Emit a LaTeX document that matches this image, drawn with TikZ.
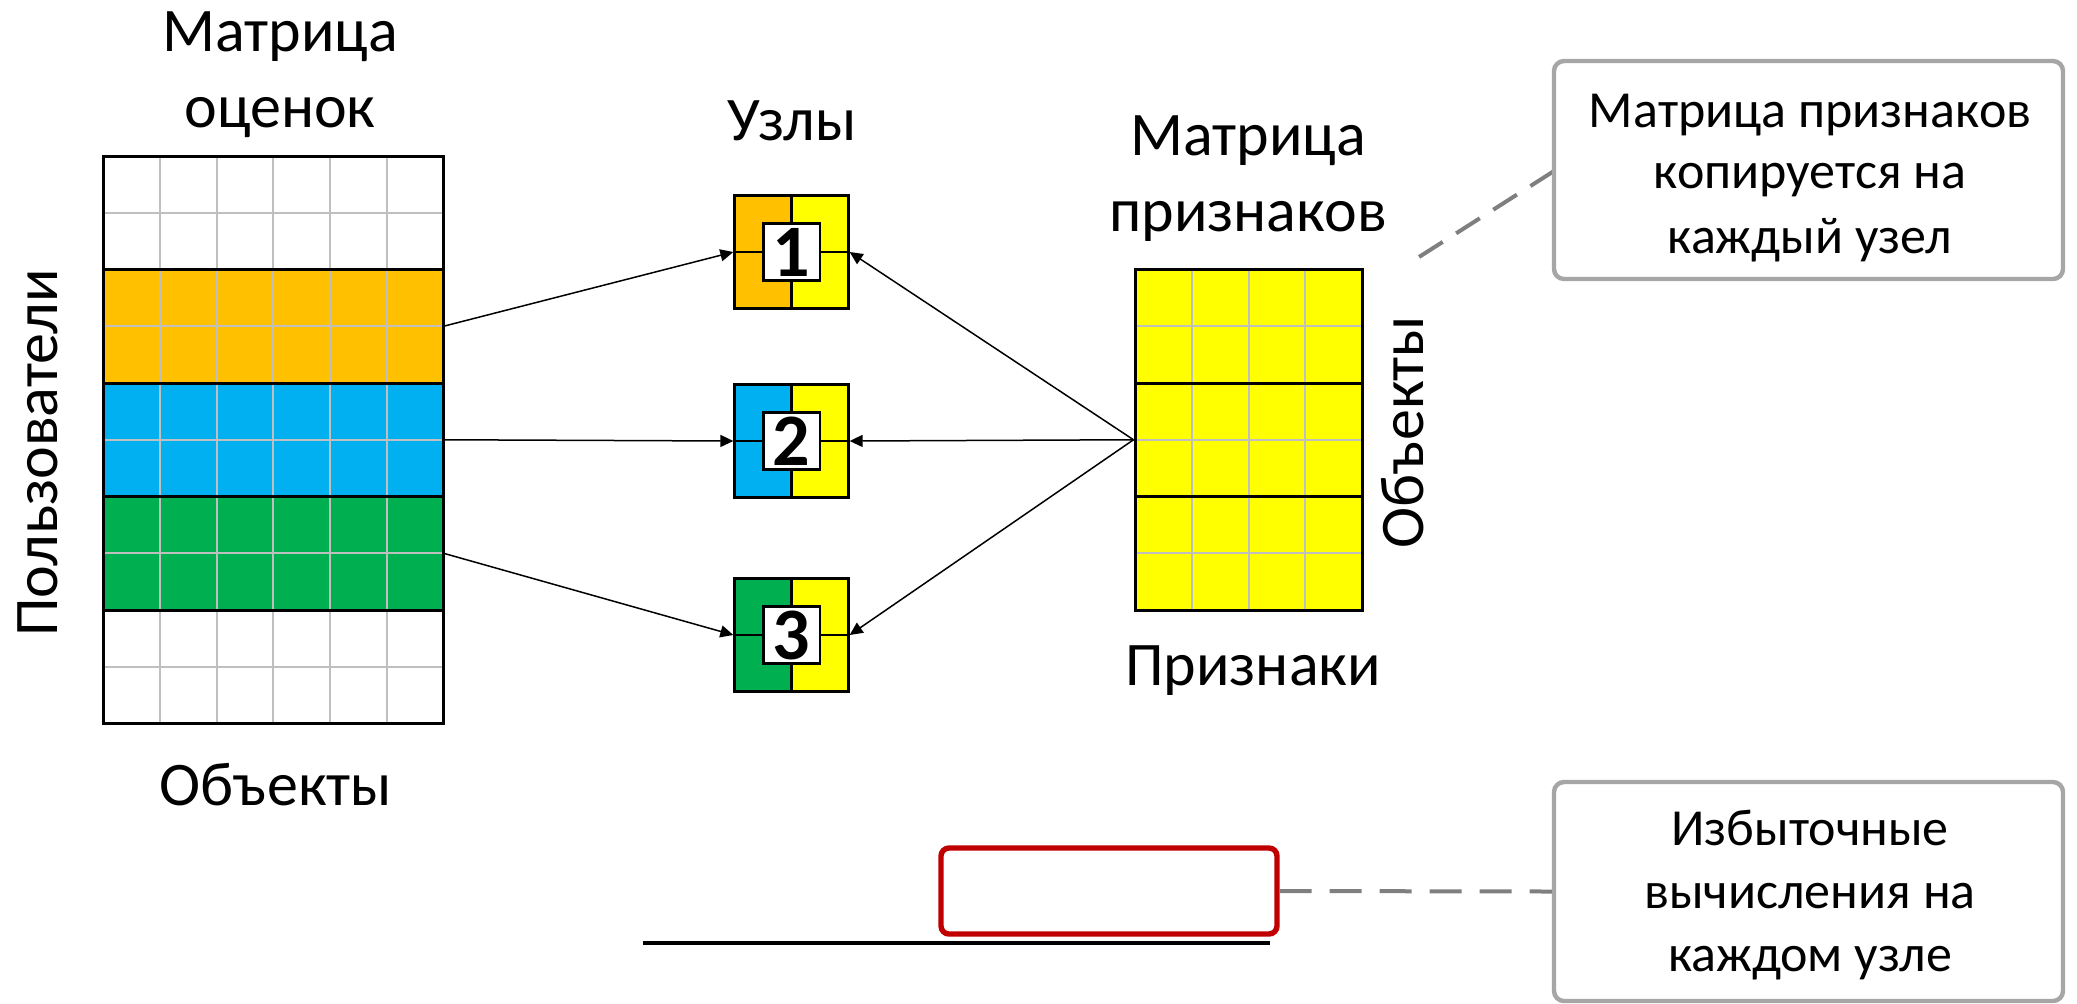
\documentclass[tikz,border=0pt]{standalone}
\usepackage{fontspec}
\setmainfont{Carlito}
\usetikzlibrary{arrows.meta}

\definecolor{cOrange}{HTML}{FFC000}
\definecolor{cBlue}{HTML}{00B0F0}
\definecolor{cGreen}{HTML}{00B050}
\definecolor{cYellow}{HTML}{FFFF00}
\definecolor{cGrid}{HTML}{BFBFBF}
\definecolor{cCallout}{HTML}{A6A6A6}
\definecolor{cLeader}{HTML}{7F7F7F}
\definecolor{cRed}{HTML}{C00000}

\begin{document}
\begin{tikzpicture}[x=0.5pt,y=-0.5pt,
  gridline/.style={draw=cGrid, line width=1pt},
  bandline/.style={draw=black, line width=1.5pt},
  frame/.style={draw=black, line width=1.5pt, inner sep=0pt},
  lbl/.style={font=\fontsize{31}{38}\selectfont, inner sep=0pt, anchor=base},
  note/.style={font=\fontsize{26}{31.5}\selectfont, inner sep=0pt, anchor=base},
  nodebox/.style={draw=black, line width=1.4pt, minimum width=56.75pt,
    minimum height=56.75pt, inner sep=0pt,
    path picture={
      \fill[#1] (path picture bounding box.south west) rectangle (path picture bounding box.north);
      \fill[cYellow] (path picture bounding box.south) rectangle (path picture bounding box.north east);
      \draw[line width=1.4pt] (path picture bounding box.south) -- (path picture bounding box.north);
      \draw[line width=1.4pt] (path picture bounding box.west) -- (path picture bounding box.east);
    }},
  numbox/.style={draw=black, line width=1.4pt, fill=white, minimum size=28.4pt,
    inner sep=0pt, font=\fontsize{37}{40}\selectfont\bfseries},
  link/.style={-{Triangle[length=6.5pt,width=6pt]}, line width=0.75pt},
  callout/.style={draw=cCallout, line width=2.2pt, rounded corners=5pt, fill=white,
    minimum width=254.5pt, minimum height=109pt, inner sep=0pt},
  leader/.style={draw=cLeader, line width=2pt}
]
\useasboundingbox (0,0) rectangle (2077,1003);
\clip (0,0) rectangle (2077,1003);

% ---------- rating matrix (users x items) ----------
\fill[cOrange] (103,269.5) rectangle (443.5,383);
\fill[cBlue]   (103,383)   rectangle (443.5,496.5);
\fill[cGreen]  (103,496.5) rectangle (443.5,610);
\foreach \k in {1,...,5}
  \draw[gridline] ({103+56.75*\k},156) -- ({103+56.75*\k},723.5);
\foreach \k in {1,3,5,7,9}
  \draw[gridline] (103,{156+56.75*\k}) -- (443.5,{156+56.75*\k});
\foreach \k in {2,4,6,8}
  \draw[bandline] (103,{156+56.75*\k}) -- (443.5,{156+56.75*\k});
\node[frame, minimum width=170.25pt, minimum height=283.75pt] (ratings) at (273.25,439.75) {};

\coordinate (rowA) at (443.5,326.25);
\coordinate (rowB) at (443.5,439.75);
\coordinate (rowC) at (443.5,553.25);

% ---------- feature matrix ----------
\fill[cYellow] (1135,269.5) rectangle (1362,610);
\foreach \k in {1,2,3}
  \draw[gridline] ({1135+56.75*\k},269.5) -- ({1135+56.75*\k},610);
\foreach \k in {1,3,5}
  \draw[gridline] (1135,{269.5+56.75*\k}) -- (1362,{269.5+56.75*\k});
\foreach \k in {2,4}
  \draw[bandline] (1135,{269.5+56.75*\k}) -- (1362,{269.5+56.75*\k});
\node[frame, minimum width=113.5pt, minimum height=170.25pt] (features) at (1248.5,439.75) {};

% ---------- worker nodes ----------
\node[nodebox=cOrange] (n1) at (791.5,252) {};
\node[nodebox=cBlue]   (n2) at (791.5,441) {};
\node[nodebox=cGreen]  (n3) at (791.5,635) {};
\node[numbox] (n1num) at (n1) {1};
\node[numbox] (n2num) at (n2) {2};
\node[numbox] (n3num) at (n3) {3};

% ---------- connectors ----------
\draw[link] (rowA) -- (n1.west);
\draw[link] (rowB) -- (n2.west);
\draw[link] (rowC) -- (n3.west);
\draw[link] (features.west) -- (n1.east);
\draw[link] (features.west) -- (n2.east);
\draw[link] (features.west) -- (n3.east);

% ---------- labels ----------
\node[lbl] (ratingsTitleA) at (280,51) {Матрица};
\node[lbl] (ratingsTitleB) at (280,127) {оценок};
\node[lbl, rotate=90] (usersLabel) at (57,453) {Пользователи};
\node[lbl] (itemsLabelA) at (276,805) {Объекты};
\node[lbl] (nodesLabel) at (792,140) {Узлы};
\node[lbl] (featTitleA) at (1248,155) {Матрица};
\node[lbl] (featTitleB) at (1248,231) {признаков};
\node[lbl, rotate=90] (itemsLabelB) at (1423,432) {Объекты};
\node[lbl] (featLabel) at (1253,685) {Признаки};

% ---------- redundant computation marker ----------
\draw[line width=1.8pt] (643,943) -- (1270,943);
\node[draw=cRed, line width=2.7pt, rounded corners=4pt, minimum width=168pt,
  minimum height=43pt, inner sep=0pt] (redBox) at (1109,891) {};

% ---------- callouts ----------
\coordinate (leaderEnd) at (1419,257);
\draw[leader, dash pattern=on 14pt off 8pt] (1554,171) -- (leaderEnd);
\node[callout] (noteCopy) at (1808.5,170) {};
\node[note] (noteCopyA) at (1810,127) {Матрица признаков};
\node[note] (noteCopyB) at (1810,188) {копируется на};
\node[note] (noteCopyC) at (1810,253) {каждый узел};

\node[callout, minimum height=109.5pt] (noteExtra) at (1808.5,891.5) {};
\draw[leader, dash pattern=on 16pt off 9pt] (redBox.east) -- (noteExtra.west);
\node[note] (noteExtraA) at (1810,845) {Избыточные};
\node[note] (noteExtraB) at (1810,908) {вычисления на};
\node[note] (noteExtraC) at (1810,971) {каждом узле};
\end{tikzpicture}
\end{document}
